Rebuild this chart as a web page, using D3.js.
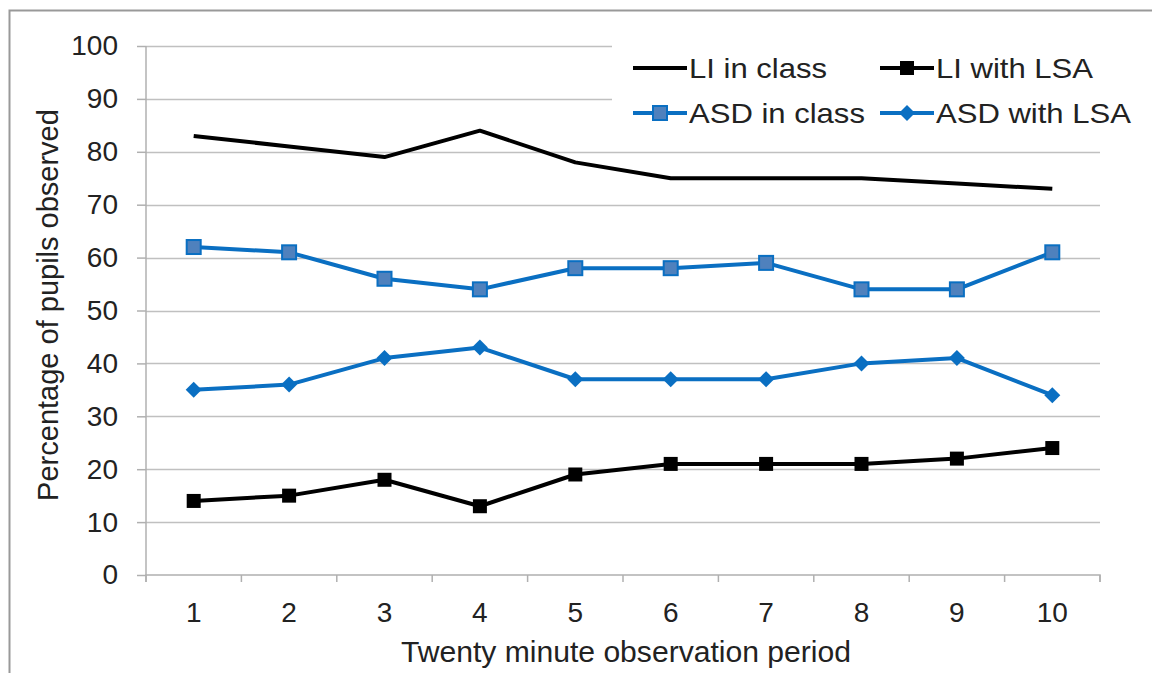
<!DOCTYPE html>
<html><head><meta charset="utf-8">
<script src="https://cdn.jsdelivr.net/npm/d3@7"></script>
<style>body{margin:0;background:#fff;font-family:"Liberation Sans",Arial,sans-serif;}</style>
</head><body><svg id="c" width="1152" height="673"></svg>
<script>
const periods = [1,2,3,4,5,6,7,8,9,10];
const liInClass   = [83,81,79,84,78,75,75,75,74,73];
const liWithLSA   = [14,15,18,13,19,21,21,21,22,24];
const asdInClass  = [62,61,56,54,58,58,59,54,54,61];
const asdWithLSA  = [35,36,41,43,37,37,37,40,41,34];
const yTicks = [0,10,20,30,40,50,60,70,80,90,100];
const seriesNames = ["LI in class","LI with LSA","ASD in class","ASD with LSA"];

const FONT = "Liberation Sans, Arial, sans-serif";
const svg = d3.select("#c");
const L=146, R=1100, T=46, B=575;
// frame
svg.append("path").attr("d","M9.5,673 L9.5,10.5 L1152,10.5").attr("fill","none").attr("stroke","#999").attr("stroke-width",2);

const x = d3.scaleBand().domain(periods).range([L,R]);
const y = d3.scaleLinear().domain([0,100]).range([B,T]);

// gridlines
svg.append("g").selectAll("line").data(yTicks.filter(d=>d>0)).join("line")
  .attr("x1",L).attr("x2",R).attr("y1",d=>Math.round(y(d))+0.5).attr("y2",d=>Math.round(y(d))+0.5)
  .attr("stroke","#c0c0c0").attr("stroke-width",1.5);

// y axis
const ya = svg.append("g").attr("transform",`translate(${L},0)`)
  .call(d3.axisLeft(y).tickValues(yTicks).tickSize(9).tickPadding(19));
ya.select(".domain").attr("stroke","#b0b0b0").attr("stroke-width",1.5).attr("d",`M0,${T}V${B}`);
ya.selectAll(".tick line").attr("stroke","#b0b0b0").attr("stroke-width",1.5);
ya.selectAll("text").attr("font-size",28).attr("fill","#222").attr("font-family",FONT);

// x axis
const xa = svg.append("g").attr("transform",`translate(0,${B})`)
  .call(d3.axisBottom(x).tickSize(0).tickPadding(27));
xa.select(".domain").attr("stroke","#b0b0b0").attr("stroke-width",1.5).attr("d",`M${L},7V0H${R}V7`);
xa.selectAll("text").attr("font-size",28).attr("fill","#222").attr("font-family",FONT);
const bounds = periods.map(p=>x(p)).concat([R]);
svg.append("g").selectAll("line").data(bounds).join("line")
  .attr("x1",d=>d).attr("x2",d=>d).attr("y1",B).attr("y2",B+7).attr("stroke","#b0b0b0").attr("stroke-width",1.5);

// axis titles
svg.append("text").attr("x",626).attr("y",662).attr("text-anchor","middle").attr("font-family",FONT)
  .attr("font-size",29).attr("fill","#222").attr("textLength",450).attr("lengthAdjust","spacingAndGlyphs")
  .text("Twenty minute observation period");
svg.append("text").attr("transform","translate(58,305) rotate(-90)").attr("text-anchor","middle").attr("font-family",FONT)
  .attr("font-size",29).attr("fill","#222").text("Percentage of pupils observed");

// legend background
svg.append("rect").attr("x",612).attr("y",40).attr("width",R-612).attr("height",100).attr("fill","#fff");

const cx = p=>x(p)+x.bandwidth()/2;
const line = d3.line().x((d,i)=>cx(periods[i])).y(d=>y(d));
const black="#000", blue="#0a6fc2";
const series = [
  {name:seriesNames[0], data:liInClass, color:black, marker:null},
  {name:seriesNames[1], data:liWithLSA, color:black, marker:"sqBlack"},
  {name:seriesNames[2], data:asdInClass, color:blue, marker:"sqBlue"},
  {name:seriesNames[3], data:asdWithLSA, color:blue, marker:"diamond"},
];
function drawMarker(g, type, px, py){
  if(type==="sqBlack") g.append("rect").attr("x",px-7).attr("y",py-7).attr("width",14).attr("height",14).attr("fill","#000");
  else if(type==="sqBlue") g.append("rect").attr("x",px-7).attr("y",py-7).attr("width",14).attr("height",14).attr("fill","#4f81bd").attr("stroke",blue).attr("stroke-width",2);
  else if(type==="diamond") g.append("path").attr("d",`M${px},${py-8}L${px+8},${py}L${px},${py+8}L${px-8},${py}Z`).attr("fill",blue);
}
series.forEach(s=>{
  svg.append("path").datum(s.data).attr("d",line).attr("fill","none").attr("stroke",s.color).attr("stroke-width",4).attr("stroke-linejoin","round");
  if(s.marker){
    const g=svg.append("g");
    s.data.forEach((v,i)=>drawMarker(g,s.marker,cx(periods[i]),y(v)));
  }
});

// legend
const legPos=[[633,68],[880,68],[633,113],[880,113]];
series.forEach((s,i)=>{
  const [lx,ly]=legPos[i];
  svg.append("line").attr("x1",lx).attr("x2",lx+54).attr("y1",ly).attr("y2",ly).attr("stroke",s.color).attr("stroke-width",4);
  if(s.marker){ const g=svg.append("g"); drawMarker(g,s.marker,lx+27,ly); }
  svg.append("text").attr("transform",`translate(${lx+56},${ly+10}) scale(1.15,1)`)
    .attr("font-size",27).attr("font-family",FONT).attr("fill","#222").text(s.name);
});
</script></body></html>
